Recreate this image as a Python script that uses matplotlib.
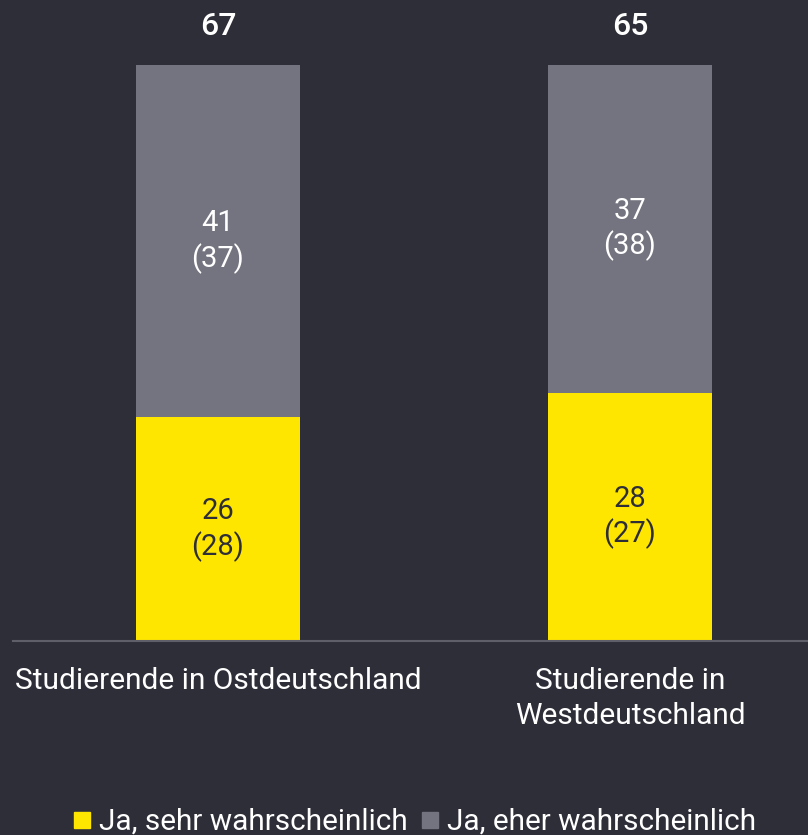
"""
Gestapeltes Balkendiagramm: Wahrscheinlichkeit nach Studienort (Ost/West).
"""
import matplotlib
matplotlib.use('Agg')
import matplotlib.pyplot as plt
from matplotlib.lines import Line2D
import numpy as np

# Daten
categories = ['Studierende in Ostdeutschland', 'Studierende in\nWestdeutschland']
sehr = [26, 28]
sehr_prev = [28, 27]
eher = [41, 37]
eher_prev = [37, 38]
totals = [67, 65]
series_names = ['Ja, sehr wahrscheinlich', 'Ja, eher wahrscheinlich']

# Farben
BG = '#2e2e38'
YELLOW = '#ffe600'
GREY = '#747480'
AXIS = '#5f5f6a'

plt.rcParams['font.family'] = ['Roboto', 'DejaVu Sans']

fig = plt.figure(figsize=(8.08, 8.35), dpi=100, facecolor=BG)
ax = fig.add_axes([13 / 808, 194 / 835, 795 / 808, 576 / 835])
ax.set_facecolor(BG)

x = np.arange(len(categories))
sehr_arr = np.array(sehr, dtype=float)
eher_arr = np.array(eher, dtype=float)
sums = sehr_arr + eher_arr
# jeder Balken auf volle Höhe normiert
sehr_share = sehr_arr / sums
eher_share = eher_arr / sums

width = 0.398
ax.bar(x, sehr_share, width, color=YELLOW)
ax.bar(x, eher_share, width, bottom=sehr_share, color=GREY)

for i in range(len(x)):
    ax.text(x[i], sehr_share[i] / 2, f'{sehr[i]}\n({sehr_prev[i]})',
            ha='center', va='center', color=BG, fontsize=21, linespacing=1.25)
    ax.text(x[i], sehr_share[i] + eher_share[i] / 2, f'{eher[i]}\n({eher_prev[i]})',
            ha='center', va='center', color='white', fontsize=21, linespacing=1.25)
    ax.annotate(str(totals[i]), xy=(x[i], 1.0), xytext=(0, 21.6),
                textcoords='offset points', ha='center', va='baseline',
                color='white', fontsize=23, fontweight='medium',
                annotation_clip=False)

ax.set_xlim(-0.4976, 1.432)
ax.set_ylim(0, 1)
ax.set_xticks(x)
ax.set_xticklabels(categories, color='white', fontsize=21.5, linespacing=1.3,
                   va='top')
ax.tick_params(axis='x', length=0, pad=19)
ax.set_yticks([])
for side in ['left', 'right', 'top']:
    ax.spines[side].set_visible(False)
ax.spines['bottom'].set_color(AXIS)
ax.spines['bottom'].set_linewidth(1.5)

handles = [
    Line2D([], [], marker='s', linestyle='none', markersize=11.5,
           markerfacecolor=YELLOW, markeredgecolor=YELLOW),
    Line2D([], [], marker='s', linestyle='none', markersize=11.5,
           markerfacecolor=GREY, markeredgecolor=GREY),
]
leg = fig.legend(handles, series_names, loc='center', bbox_to_anchor=(415 / 808, 1 - 822 / 835),
                 ncol=2, frameon=False, fontsize=21.4, handlelength=0.55,
                 handletextpad=0.3, columnspacing=0.45, labelcolor='white')

fig.savefig('out.png', dpi=100, facecolor=BG)
